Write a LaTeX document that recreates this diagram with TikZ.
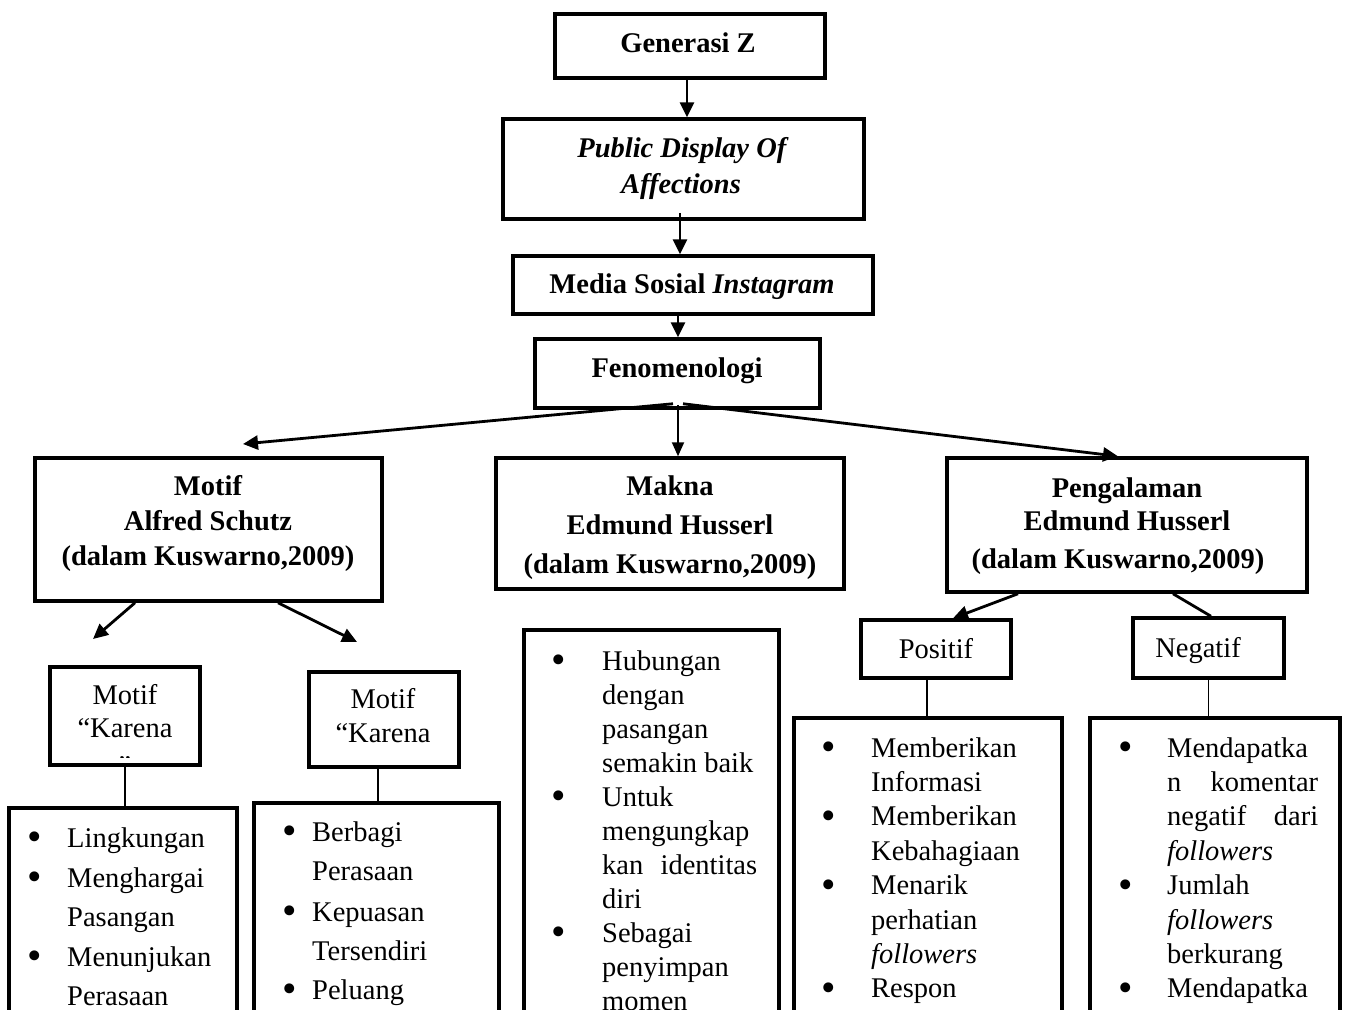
\documentclass[tikz,border=0pt]{standalone}
\usepackage{fontspec}
\setmainfont{Liberation Serif}
\usetikzlibrary{arrows.meta}
\newcommand{\bigbul}{\raisebox{-3.5pt}{\scalebox{1.45}{\textbullet}}}
\begin{document}
\begin{tikzpicture}[x=1pt,y=-1pt,
  box/.style={draw, line width=3.5pt, inner sep=0pt},
  txt/.style={font=\fontsize{28.5}{34}\selectfont, inner sep=0pt, anchor=base},
  btxt/.style={txt, font=\fontsize{28.5}{34}\selectfont\bfseries},
  ltxt/.style={txt, anchor=base west},
  arr/.style={line width=2.8pt, -{Triangle[length=15pt,width=14pt]}},
  tarr/.style={line width=2pt, -{Triangle[length=14pt,width=12pt]}},
  thinline/.style={line width=1.3pt}]
\path[use as bounding box, fill=white] (0,0) rectangle (1346,1009);

% ---- boxes ----
\node[box, minimum width=270pt, minimum height=64pt] (gen) at (690,46) {};
\node[box, minimum width=361pt, minimum height=100pt] (pda) at (683.5,169) {};
\node[box, minimum width=360pt, minimum height=58pt] (med) at (693,285) {};
\node[box, minimum width=285pt, minimum height=69pt] (fen) at (677.5,373.5) {};
\node[box, minimum width=347pt, minimum height=143pt] (motif) at (208.5,529.5) {};
\node[box, minimum width=348pt, minimum height=131pt] (makna) at (670,523.5) {};
\node[box, minimum width=360pt, minimum height=134pt] (peng) at (1127,525) {};
\node[box, minimum width=150pt, minimum height=98pt] (mk1) at (125,716) {};
\node[box, minimum width=150pt, minimum height=95pt] (mk2) at (384,719.5) {};
\node[box, minimum width=150pt, minimum height=58pt] (pos) at (936,649) {};
\node[box, minimum width=151pt, minimum height=60pt] (neg) at (1208.5,648) {};
\node[box, minimum width=228pt, minimum height=232pt] (lst1) at (123,924) {};
\node[box, minimum width=245pt, minimum height=237pt] (lst2) at (376.5,921.5) {};
\node[box, minimum width=255pt, minimum height=410pt] (lst3) at (651.5,835) {};
\node[box, minimum width=268pt, minimum height=322pt] (lst4) at (928,879) {};
\node[box, minimum width=250pt, minimum height=322pt] (lst5) at (1215,879) {};

% ---- titles ----
\node[btxt] (tgen) at (688,52) {Generasi Z};
\node[btxt] (tpda1) at (683,157) {\textit{Public Display Of}};
\node[btxt] (tpda2) at (681,193) {\textit{Affections}};
\node[btxt] (tmed) at (692,293) {Media Sosial \textit{Instagram}};
\node[btxt] (tfen) at (677,377) {Fenomenologi};
\node[btxt] (tmo1) at (208,495) {Motif};
\node[btxt] (tmo2) at (208,530) {Alfred Schutz};
\node[btxt] (tmo3) at (208,565) {(dalam Kuswarno,2009)};
\node[btxt] (tma1) at (670,495) {Makna};
\node[btxt] (tma2) at (670,534) {Edmund Husserl};
\node[btxt] (tma3) at (670,573) {(dalam Kuswarno,2009)};
\node[btxt] (tpe1) at (1127,497) {Pengalaman};
\node[btxt] (tpe2) at (1127,530) {Edmund Husserl};
\node[btxt] (tpe3) at (1118,568) {(dalam Kuswarno,2009)};
\node[txt] (tpos) at (936,658) {Positif};
\node[txt] (tneg) at (1198,657) {Negatif};

\begin{scope}
  \clip (53,670) rectangle (197,757);
  \node[txt] (tk1a) at (125,704) {Motif};
  \node[txt] (tk1b) at (125,737) {“Karena};
  \node[txt] (tk1c) at (125,775) {”};
\end{scope}
\begin{scope}
  \clip (312,675) rectangle (456,757);
  \node[txt] (tk2a) at (383,708) {Motif};
  \node[txt] (tk2b) at (383,742) {“Karena};
  \node[txt] (tk2c) at (383,781) {”};
\end{scope}

% ---- list 1 ----
\foreach \t/\y [count=\i] in {Lingkungan/847, Menghargai/887, Pasangan/926, Menunjukan/966, Perasaan/1005}
  \node[ltxt] (a\i) at (67,\y) {\t};
\foreach \y [count=\i] in {847,887,966}
  \node[txt] (ab\i) at (35,\y) {\bigbul};

% ---- list 2 ----
\foreach \t/\y [count=\i] in {Berbagi/841, Perasaan/880, Kepuasan/921, Tersendiri/960, Peluang/999}
  \node[ltxt] (b\i) at (312,\y) {\t};
\foreach \y [count=\i] in {841,921,999}
  \node[txt] (bb\i) at (290,\y) {\bigbul};

% ---- list 3 ----
\foreach \t/\y [count=\i] in {Hubungan/670, dengan/704, pasangan/738, semakin baik/772, Untuk/806, mengungkap/840, diri/908, Sebagai/942, penyimpan/976, momen/1010}
  \node[ltxt] (c\i) at (602,\y) {\t};
\node[ltxt] (cj) at (602,874) {\makebox[155pt][s]{kan identitas}};
\foreach \y [count=\i] in {670,806,942}
  \node[txt] (cb\i) at (559,\y) {\bigbul};

% ---- list 4 ----
\foreach \t/\y [count=\i] in {Memberikan/757, Informasi/791.4, Memberikan/825.8, Kebahagiaan/860.2, Menarik/894.6, perhatian/929, \textit{followers}/963.4, Respon/997.8}
  \node[ltxt] (d\i) at (871,\y) {\t};
\foreach \y [count=\i] in {757,825.8,894.6,997.8}
  \node[txt] (db\i) at (829,\y) {\bigbul};

% ---- list 5 ----
\node[ltxt] (e1) at (1167,757) {Mendapatka};
\node[ltxt] (e2) at (1167,791.4) {\makebox[151pt][s]{n komentar}};
\node[ltxt] (e3) at (1167,825.8) {\makebox[151pt][s]{negatif dari}};
\node[ltxt] (e4) at (1167,860.2) {\textit{followers}};
\node[ltxt] (e5) at (1167,894.6) {Jumlah};
\node[ltxt] (e6) at (1167,929) {\textit{followers}};
\node[ltxt] (e7) at (1167,963.4) {berkurang};
\node[ltxt] (e8) at (1167,997.8) {Mendapatka};
\foreach \y [count=\i] in {757,894.6,997.8}
  \node[txt] (eb\i) at (1126,\y) {\bigbul};

% ---- connectors ----
\coordinate (tipL) at (243,444);
\coordinate (tipM1) at (93,639);
\coordinate (tipM2) at (357,642);

\draw[arr] (gen.south -| 687,0) -- (pda.north -| 687,0);
\draw[arr] ([xshift=-3.5pt,yshift=8pt]pda.south) -- ([xshift=-13pt]med.north);
\draw[arr] ([xshift=-15pt,yshift=4pt]med.south) -- ([xshift=0.5pt]fen.north);
\draw[arr] ([xshift=-4.5pt,yshift=6pt]fen.south) -- (tipL);
\draw[tarr] ([xshift=0.5pt,yshift=5pt]fen.south) -- ([xshift=8pt]makna.north);
\draw[arr] ([xshift=5.5pt,yshift=6pt]fen.south) -- ([xshift=-9pt]peng.north);
\draw[arr] ([xshift=-73.5pt]motif.south) -- (tipM1);
\draw[arr] ([xshift=69.5pt]motif.south) -- (tipM2);
\draw[arr] ([xshift=-109pt]peng.south) -- ([xshift=17pt]pos.north);
\draw[line width=2.8pt] ([xshift=46pt]peng.south) -- ([xshift=2.5pt]neg.north);
\draw[thinline] (mk1.south) -- (mk1.south |- lst1.north);
\draw[thinline] ([xshift=-6pt]mk2.south) -- ([xshift=-6pt]mk2.south |- lst2.north);
\draw[thinline] ([xshift=-9pt]pos.south) -- ([xshift=-9pt]pos.south |- lst4.north);
\draw[thinline] (neg.south) -- (neg.south |- lst5.north);
\end{tikzpicture}
\end{document}
